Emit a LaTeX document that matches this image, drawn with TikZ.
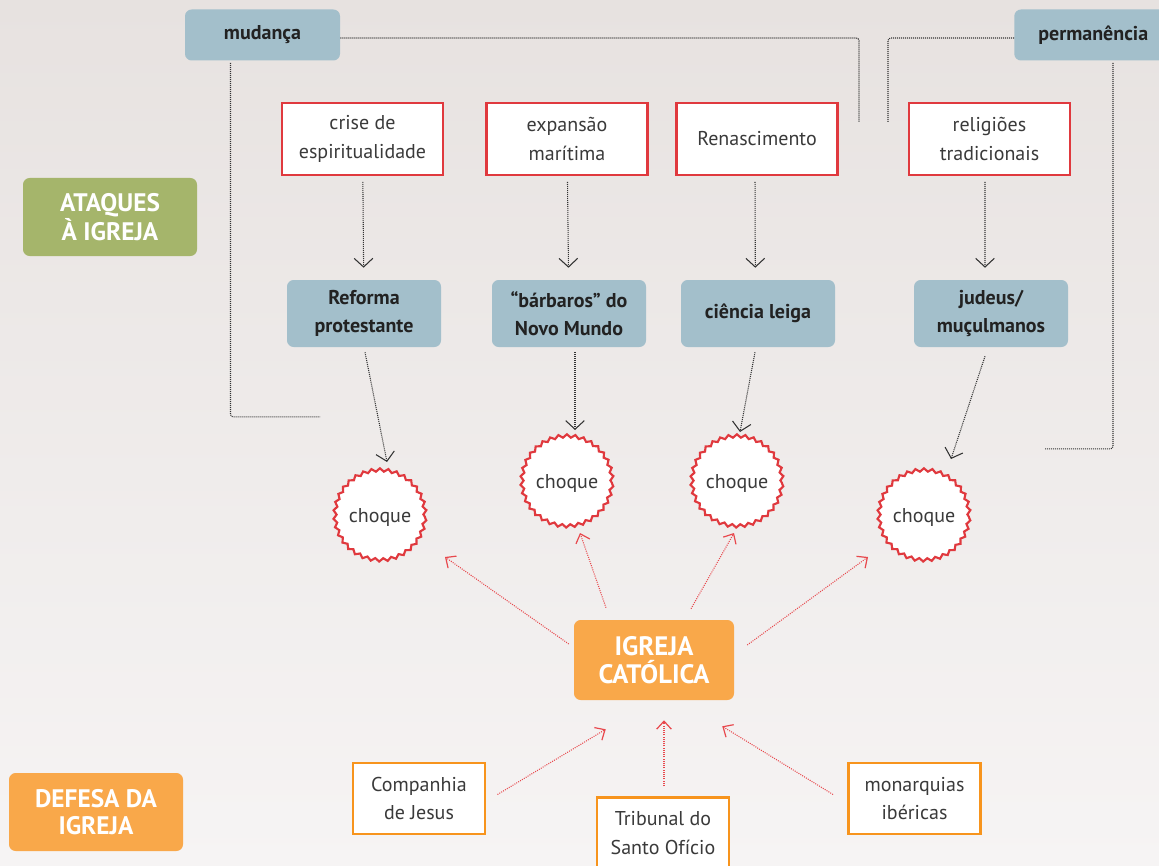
\documentclass[tikz,border=0pt]{standalone}
\usepackage{fontspec}
\setmainfont{PT Sans}
\usetikzlibrary{arrows.meta,decorations.pathmorphing}

\definecolor{bgtop}{HTML}{E7E2E0}
\definecolor{bgbot}{HTML}{F6F4F4}
\definecolor{slate}{HTML}{A3BFCB}
\definecolor{olive}{HTML}{A5B56B}
\definecolor{amber}{HTML}{F9A84A}
\definecolor{amberline}{HTML}{F7941D}
\definecolor{crimson}{HTML}{E0393E}
\definecolor{redlink}{HTML}{E8484D}
\definecolor{ink}{HTML}{3A3A3A}
\definecolor{darkink}{HTML}{222222}

\begin{document}
\begin{tikzpicture}[x=0.75pt,y=-0.75pt,
  txt/.style={font=\fontsize{15}{21.5}\selectfont, text=ink, align=center},
  topic/.style={txt, draw=crimson, line width=2.2pt, fill=white,
    minimum width=161*0.75pt, minimum height=72*0.75pt, inner sep=0pt},
  attack/.style={font=\bfseries\fontsize{15}{21.5}\selectfont, text=darkink, align=center,
    fill=slate, rounded corners=5pt, minimum width=154*0.75pt, minimum height=67*0.75pt, inner sep=0pt},
  pole/.style={attack, minimum width=155*0.75pt, minimum height=51*0.75pt},
  label/.style={font=\bfseries\fontsize{19}{20.5}\selectfont, text=white, align=center,
    rounded corners=5pt, minimum width=174*0.75pt, minimum height=78*0.75pt, inner sep=0pt},
  ally/.style={txt, draw=amberline, line width=2.2pt, fill=white,
    minimum width=132*0.75pt, minimum height=71*0.75pt, inner sep=0pt},
  clash/.style={txt, circle, draw=crimson, line width=1.6pt, fill=white,
    minimum size=90*0.75pt, inner sep=0pt,
    decorate, decoration={snake, segment length=6.2pt, amplitude=1.2pt}},
  guide/.style={draw=black!80, line width=0.8pt, dash pattern=on 0.75pt off 0.75pt},
  blackarrow/.style={guide, -{Straight Barb[length=6.5pt, width=14pt, line width=0.8pt]}},
  redarrow/.style={draw=redlink, line width=0.8pt, dash pattern=on 0.75pt off 0.9pt,
    -{Straight Barb[length=6pt, width=11pt, line width=0.9pt]}}
]
\shade[top color=bgtop, bottom color=bgbot] (0,0) rectangle (1159,866);
\useasboundingbox (0,0) rectangle (1159,866);

% side labels
\node[label, fill=olive] (ataques) at (110,217) {ATAQUES\\À IGREJA};
\node[label, fill=amber] (defesa) at (96,812) {DEFESA DA\\IGREJA};

% the two poles
\node[pole] (mudanca) at (262.5,35) {mudança};
\node[pole, minimum width=170*0.75pt, anchor=west] (permanencia) at (1014,35) {\hspace*{-9pt}permanência};

% causes
\node[topic] (crise) at (362.5,139) {crise de\\espiritualidade};
\node[topic] (expansao) at (567,139) {expansão\\marítima};
\node[topic] (renasc) at (757,139) {Renascimento};
\node[topic] (religioes) at (989.5,139) {religiões\\tradicionais};

% attacks
\node[attack] (reforma) at (364,313.5) {Reforma\\protestante};
\node[attack] (barbaros) at (569,313.5) {“bárbaros” do\\Novo Mundo};
\node[attack] (ciencia) at (758,313.5) {ciência leiga};
\node[attack] (judeus) at (991,313.5) {judeus/\\muçulmanos};

% clashes
\node[clash] (c1) at (380,517) {choque};
\node[clash] (c2) at (567,483) {choque};
\node[clash] (c3) at (737,483) {choque};
\node[clash] (c4) at (924,517) {choque};

% the church and its allies
\node[label, fill=amber, font=\bfseries\fontsize{20}{21}\selectfont,
  minimum width=160*0.75pt, minimum height=80*0.75pt] (igreja) at (654,660) {IGREJA\\CATÓLICA};
\node[ally] (companhia) at (419,798.5) {Companhia\\de Jesus};
\node[ally] (tribunal) at (663,833) {Tribunal do\\Santo Ofício};
\node[ally] (monarquias) at (914.5,798.5) {monarquias\\ibéricas};

% pole guides
\draw[guide, rounded corners=2pt] ([shift={(0,3)}]mudanca.east) -| ([shift={(0,87)}]permanencia.west -| 859,0);
\draw[guide, rounded corners=2pt] ([shift={(0,3)}]permanencia.west) -| ([shift={(0,87)}]mudanca.east -| 888,0);
\draw[guide, rounded corners=2pt] ([shift={(-32,2)}]mudanca.south) |- ([shift={(-60,-54)}]c1.north);
\draw[guide, rounded corners=2pt] ([shift={(13,2)}]permanencia.south -| 1100,0) |- ([shift={(121,-22)}]c4.north);

% causes to attacks
\draw[blackarrow, shorten <=4pt, shorten >=9pt] (crise) -- (reforma);
\draw[blackarrow, shorten <=4pt, shorten >=9pt] (expansao) -- (barbaros);
\draw[blackarrow, shorten <=4pt, shorten >=9pt] ([xshift=-1.5pt]renasc.south) -- ([xshift=-2pt]ciencia.north);
\draw[blackarrow, shorten <=4pt, shorten >=9pt] ([xshift=-3.4pt]religioes.south) -- ([xshift=-4.5pt]judeus.north);

% attacks to clashes
\draw[blackarrow] ([shift={(1,5)}]reforma.south) -- ([shift={(7,-55)}]c1.center);
\draw[blackarrow] ([shift={(6,5)}]barbaros.south) -- ([shift={(8,-53)}]c2.center);
\draw[blackarrow] ([shift={(-3,5)}]ciencia.south) -- ([shift={(3,-51)}]c3.center);
\draw[blackarrow] ([shift={(-6,9)}]judeus.south) -- ([shift={(27,-58)}]c4.center);

% the church answers each clash
\draw[redarrow] ([shift={(-5,-16)}]igreja.west) -- ([shift={(65,40)}]c1.center);
\draw[redarrow] ([shift={(-48,-12)}]igreja.north) -- ([shift={(13,50)}]c2.center);
\draw[redarrow] ([shift={(37,-11)}]igreja.north) -- ([shift={(-3,50)}]c3.center);
\draw[redarrow] ([shift={(13,-15)}]igreja.east) -- ([shift={(-56,40)}]c4.center);

% allies support the church
\draw[redarrow] ([shift={(11,-4)}]companhia.east) -- ([shift={(32,29)}]igreja.south west);
\draw[redarrow] ([shift={(1,-10)}]tribunal.north) -- ([shift={(10,20)}]igreja.south);
\draw[redarrow] ([shift={(-14,-4)}]monarquias.west) -- ([shift={(-12,26)}]igreja.south east);
\end{tikzpicture}
\end{document}
